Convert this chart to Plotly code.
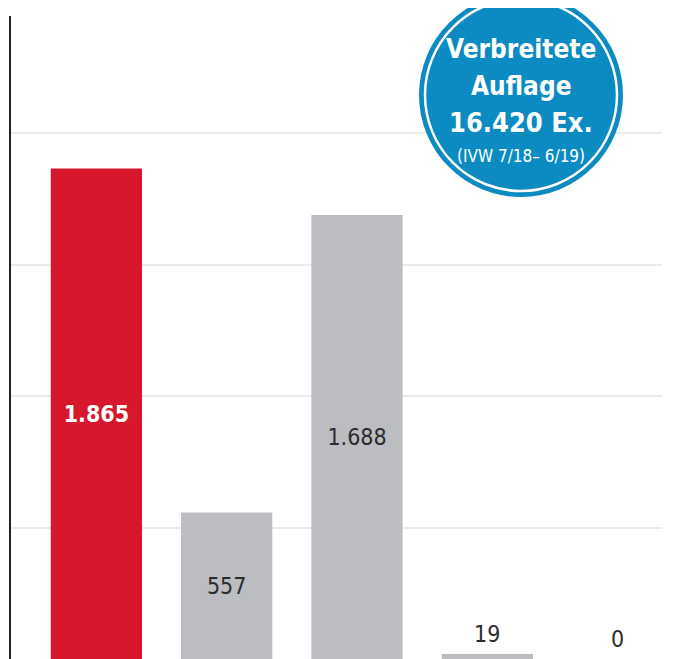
import plotly.graph_objects as go

# ---- data ----
categories = ["A", "B", "C", "D", "E"]
values = [1865, 557, 1688, 19, 0]
bar_colors = ["#D7172B", "#BCBDC0", "#BCBDC0", "#BCBDC0", "#BCBDC0"]
label_positions = ["inside", "inside", "inside", "outside", "outside"]
badge_lines = ["Verbreitete", "Auflage", "16.420 Ex.", "(IVW 7/18– 6/19)"]
grid_ticks = [500, 1000, 1500, 2000]

FONT = "DejaVu Sans Condensed, DejaVu Sans, sans-serif"
OFF = 8  # default body margin of the page
WIN_W, WIN_H = 677, 659
W, H = WIN_W - OFF, WIN_H - OFF
# plot area in window pixels: x 11..662, y 16..659
ML, MR, MT, MB = 11 - OFF, WIN_W - 662, 16 - OFF, 0
PW, PH = W - ML - MR, H - MT - MB


def fmt(v):
    return f"{v:,}".replace(",", ".")


def px_x(px):  # window pixel -> paper
    return (px - OFF - ML) / PW


def px_y(py):
    return (OFF + H - MB - py) / PH


xs = list(range(len(categories)))
inside_text = []
for i, v in enumerate(values):
    if label_positions[i] == "inside":
        t = fmt(v)
        inside_text.append(f"<b>{t}</b>" if i == 0 else t)
    else:
        inside_text.append("")

fig = go.Figure()
fig.add_trace(go.Bar(
    x=xs, y=values, width=0.7,
    marker=dict(color=bar_colors, line=dict(width=0)),
    text=inside_text, textposition="inside", insidetextanchor="middle",
    textfont=dict(family=FONT, size=23,
                  color=["white" if i == 0 else "#2b2b2b" for i in xs]),
    hoverinfo="skip", cliponaxis=False,
))

annotations = []
for i, v in enumerate(values):
    if label_positions[i] == "outside":
        annotations.append(dict(
            x=xs[i], y=v, xref="x", yref="y", text=fmt(v), showarrow=False,
            yanchor="bottom", yshift=5,
            font=dict(family=FONT, size=23, color="#2b2b2b")))

# badge
cx, cy, r = 521, 95, 102
shapes = [
    dict(type="circle", xref="paper", yref="paper", layer="above",
         x0=px_x(cx - r), x1=px_x(cx + r), y0=px_y(cy + r), y1=px_y(cy - r),
         fillcolor="#0B8BC1", line=dict(width=0)),
    dict(type="circle", xref="paper", yref="paper", layer="above",
         x0=px_x(cx - r + 6), x1=px_x(cx + r - 6), y0=px_y(cy + r - 6), y1=px_y(cy - r + 6),
         fillcolor="rgba(0,0,0,0)", line=dict(width=2.5, color="white")),
]
line_y = [49, 86, 122, 156]
line_size = [26, 26, 27, 17]
for txt, yy, sz, i in zip(badge_lines, line_y, line_size, range(4)):
    annotations.append(dict(
        x=px_x(cx), y=px_y(yy), xref="paper", yref="paper",
        text=(f"<b>{txt}</b>" if i < 3 else txt), showarrow=False,
        xanchor="center", yanchor="middle",
        font=dict(family=FONT, size=sz, color="white")))

fig.update_layout(
    width=W, height=H,
    margin=dict(l=ML, r=MR, t=MT, b=MB, pad=0),
    paper_bgcolor="white", plot_bgcolor="white",
    showlegend=False, bargap=0.3,
    xaxis=dict(range=[-0.655, 4.34], showgrid=False, zeroline=False,
               showticklabels=False, ticks="", showline=False),
    yaxis=dict(range=[0, 2445], tickvals=grid_ticks, showgrid=True,
               gridcolor="#EAEAEA", gridwidth=2, zeroline=False,
               showticklabels=False, ticks="",
               showline=True, linecolor="#222222", linewidth=1.5),
    shapes=shapes, annotations=annotations,
)

fig.write_html("out.html")
